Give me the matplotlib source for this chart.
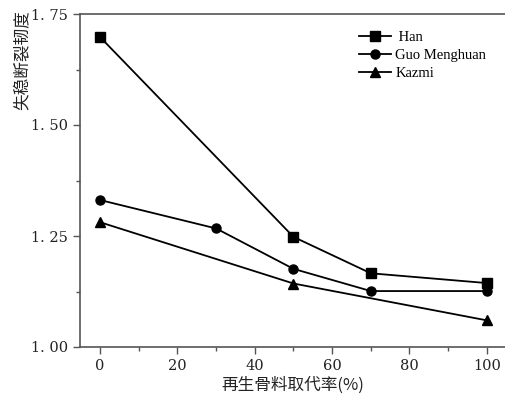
import matplotlib
matplotlib.use('Agg')
import matplotlib.pyplot as plt
from matplotlib.ticker import MultipleLocator, FuncFormatter

plt.rcParams['font.family'] = ['Noto Sans CJK SC', 'DejaVu Sans']

# data
han_x = [0, 50, 70, 100]
han_y = [1.698, 1.248, 1.166, 1.144]
guo_x = [0, 30, 50, 70, 100]
guo_y = [1.331, 1.267, 1.176, 1.126, 1.126]
kazmi_x = [0, 50, 100]
kazmi_y = [1.281, 1.143, 1.060]

fig = plt.figure(figsize=(5.05, 3.98), dpi=100)
ax = fig.add_axes([80 / 505, 51 / 398, 425 / 505, 333 / 398])

ax.plot(han_x, han_y, color='black', lw=1.3, marker='s', ms=6.5, label=' Han')
ax.plot(guo_x, guo_y, color='black', lw=1.3, marker='o', ms=6.5, label='Guo Menghuan')
ax.plot(kazmi_x, kazmi_y, color='black', lw=1.3, marker='^', ms=7, label='Kazmi')

ax.set_xlim(-5.2, 104.7)
ax.set_ylim(1.0, 1.75)
ax.xaxis.set_major_locator(MultipleLocator(20))
ax.xaxis.set_minor_locator(MultipleLocator(10))
ax.yaxis.set_major_locator(MultipleLocator(0.25))
ax.yaxis.set_minor_locator(MultipleLocator(0.125))
ax.yaxis.set_major_formatter(FuncFormatter(lambda v, p: f'{v:.2f}'.replace('.', '. ')))

for s in ['left', 'bottom', 'top']:
    ax.spines[s].set_color('#555555')
    ax.spines[s].set_linewidth(1.2)
ax.spines['right'].set_visible(False)
ax.tick_params(which='both', direction='out', color='#555555', width=1.0,
               top=False, right=False)
ax.tick_params(which='major', length=5, labelsize=10.5, labelcolor='#222222')
ax.tick_params(which='minor', length=3)
for lab in ax.get_xticklabels() + ax.get_yticklabels():
    lab.set_family(['DejaVu Serif'])

ax.set_xlabel('再生骨料取代率(%)', fontsize=12, color='#222222', labelpad=3)
fig.text(22 / 505, 1 - 60 / 398, '失稳断裂韧度', rotation=90, fontsize=12,
         color='#222222', ha='center', va='center')

leg = ax.legend(loc='upper left', bbox_to_anchor=(0.625, 0.99), frameon=False,
                prop={'family': 'Liberation Serif', 'size': 10.5},
                handlelength=2.2, handletextpad=0.3, labelspacing=0.35)

fig.savefig('out.png', dpi=100)
